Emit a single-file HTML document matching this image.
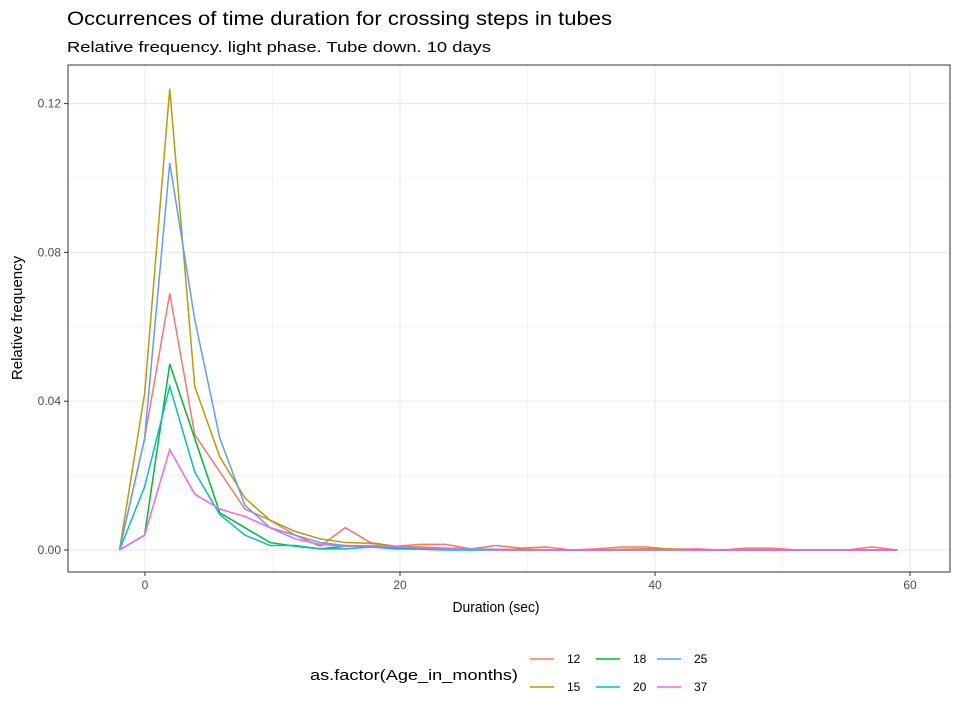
<!DOCTYPE html>
<html><head><meta charset="utf-8"><style>
body{margin:0;background:#fff;font-family:"Liberation Sans",sans-serif}
</style></head><body>
<svg width="960" height="720" xmlns="http://www.w3.org/2000/svg" font-family="Liberation Sans, sans-serif">
<rect width="960" height="720" fill="#fff"/>
<text x="67" y="25" font-size="19" fill="#000" textLength="545" lengthAdjust="spacingAndGlyphs">Occurrences of time duration for crossing steps in tubes</text>
<text x="67" y="52" font-size="15" fill="#000" textLength="424" lengthAdjust="spacingAndGlyphs">Relative frequency. light phase. Tube down. 10 days</text>
<g id="grid"></g>
<g id="series"></g>
<rect x="68" y="65" width="882" height="507" fill="none" stroke="#333" stroke-width="1"/>
<g id="axes" font-size="12" fill="#4d4d4d"></g>
<text x="496" y="612" font-size="15" text-anchor="middle" textLength="87" lengthAdjust="spacingAndGlyphs">Duration (sec)</text>
<text transform="translate(22,318) rotate(-90)" font-size="15" text-anchor="middle">Relative frequency</text>
<text x="310" y="680" font-size="15" textLength="208" lengthAdjust="spacingAndGlyphs">as.factor(Age_in_months)</text>
<g id="legend" font-size="12"></g>
</svg>
<script>
const ns="http://www.w3.org/2000/svg";
const xVals=[-2,-0.03,1.94,3.9,5.87,7.84,9.81,11.77,13.74,15.71,17.68,19.65,21.61,23.58,25.55,27.52,29.48,31.45,33.42,35.39,37.35,39.32,41.29,43.26,45.23,47.19,49.16,51.13,53.1,55.06,57.03,59];
const seriesNames=["12","15","18","20","25","37"];
const colors=["#F8766D","#B79F00","#00BA38","#00BFC4","#619CFF","#F564E3"];
const s12=[0,0.03,0.069,0.031,0.021,0.011,0.008,0.004,0.001,0.006,0.002,0.001,0.0015,0.0015,0.0003,0.0012,0.0005,0.0008,0,0.0003,0.0008,0.0008,0.0002,0.0003,0,0.0005,0.0005,0,0,0,0.0008,0];
const s15=[0,0.042,0.124,0.044,0.025,0.014,0.008,0.005,0.003,0.002,0.0018,0.001,0.0008,0.0005,0.0003,0.0002,0.0002,0.0001,0,0,0.0002,0.0003,0.0003,0,0,0.0001,0,0,0,0,0,0];
const s18=[0,0.004,0.05,0.03,0.01,0.006,0.002,0.001,0.0003,0.001,0.001,0.0005,0.0003,0.0002,0,0,0,0,0,0,0,0,0,0,0,0,0,0,0,0,0,0];
const s20=[0,0.017,0.044,0.021,0.0095,0.004,0.0012,0.0012,0.0003,0.0003,0.0008,0.0003,0.0002,0,0,0,0,0,0,0,0,0,0,0,0,0,0,0,0,0,0,0];
const s25=[0,0.03,0.104,0.062,0.03,0.012,0.006,0.004,0.002,0.0012,0.001,0.0008,0.0005,0.0003,0.0003,0.0002,0,0,0,0,0,0,0,0,0,0,0,0,0,0,0,0];
const s37=[0,0.004,0.027,0.015,0.011,0.009,0.006,0.003,0.0015,0.001,0.0012,0.001,0.0006,0.0003,0.0002,0,0,0,0,0,0,0,0,0,0,0,0,0,0,0,0,0];
const xTicks=[0,20,40,60];
const yTicks=[0,0.04,0.08,0.12];
const yTickLabels=["0.00","0.04","0.08","0.12"];
const X=v=>145+v*12.75;
const Y=v=>550-v*3720;
const allSeries=[s12,s15,s18,s20,s25,s37];
function mk(tag,attrs,parent){const e=document.createElementNS(ns,tag);for(const k in attrs)e.setAttribute(k,attrs[k]);parent.appendChild(e);return e;}
const grid=document.getElementById('grid'),axes=document.getElementById('axes');
[10,30,50].forEach(v=>{const l=mk('line',{x1:X(v),x2:X(v),y1:65,y2:572,stroke:'#ebebeb','stroke-width':0.6},grid);

});
[0.02,0.06,0.10].forEach(v=>{const l=mk('line',{x1:68,x2:950,y1:Y(v),y2:Y(v),stroke:'#ebebeb','stroke-width':0.6},grid);

});
xTicks.forEach(v=>{const l=mk('line',{x1:X(v),x2:X(v),y1:65,y2:572,stroke:'#ebebeb','stroke-width':1.2},grid);


mk('line',{x1:X(v),x2:X(v),y1:572,y2:576,stroke:'#333'},axes);
const t=mk('text',{x:X(v),y:589,'text-anchor':'middle'},axes);t.textContent=v;

});
yTicks.forEach((v,i)=>{const l=mk('line',{x1:68,x2:950,y1:Y(v),y2:Y(v),stroke:'#ebebeb','stroke-width':1.2},grid);


mk('line',{x1:64,x2:68,y1:Y(v),y2:Y(v),stroke:'#333'},axes);
const t=mk('text',{x:61,y:Y(v)+4,'text-anchor':'end'},axes);t.textContent=yTickLabels[i];

});
const sg=document.getElementById('series');
allSeries.forEach((s,i)=>{const p=mk('polyline',{points:s.map((v,j)=>X(xVals[j])+','+Y(v)).join(' '),fill:'none',stroke:colors[i],'stroke-width':1.5},sg);

});
const lg=document.getElementById('legend');
const pos=[[530,659],[530,687],[596,659],[596,687],[657,659],[657,687]];
seriesNames.forEach((n,i)=>{const g=mk('g',{},lg);


mk('line',{x1:pos[i][0],x2:pos[i][0]+24,y1:pos[i][1],y2:pos[i][1],stroke:colors[i],'stroke-width':1.5},g);
const t=mk('text',{x:pos[i][0]+37,y:pos[i][1]+4,fill:'#000'},g);t.textContent=n;});
</script>
</body></html>
